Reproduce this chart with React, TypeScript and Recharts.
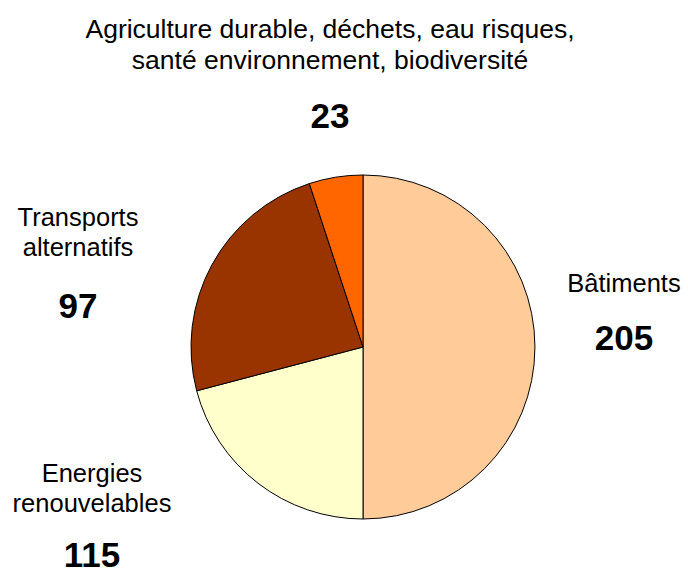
import { Cell, Pie, PieChart } from 'recharts';

// Categories in drawing order (clockwise from 12 o'clock)
const categories = [
  'Bâtiments',
  'Energies renouvelables',
  'Transports alternatifs',
  'Agriculture durable, déchets, eau risques, santé environnement, biodiversité',
];

// Numbers printed next to each slice
const projectCounts = [205, 115, 97, 23];

// Slice shares (%) as measured on the drawn pie
const sliceShares = [50, 20.9, 24.05, 5.05];

const sliceColors = ['#FFCC99', '#FFFFCC', '#993300', '#FF6600'];

// Label text lines per category
const labelLines = [
  ['Bâtiments'],
  ['Energies', 'renouvelables'],
  ['Transports', 'alternatifs'],
  ['Agriculture durable, déchets, eau risques,', 'santé environnement, biodiversité'],
];

// Label placement, relative to the pie centre: x of text centre, baseline of first line, baseline of number
const labelLayout = [
  { dx: 261, firstY: -55, numberY: 3, fontSize: 25.5, lineGap: 30 },
  { dx: -271, firstY: 135, numberY: 220, fontSize: 25.5, lineGap: 30 },
  { dx: -285, firstY: -121, numberY: -29, fontSize: 25.5, lineGap: 30 },
  { dx: -33, firstY: -309, numberY: -219, fontSize: 26.5, lineGap: 31 },
];

const chartData = categories.map((name, i) => ({
  name,
  share: sliceShares[i],
  count: projectCounts[i],
}));

const FONT = '"Liberation Sans", Arial, Helvetica, sans-serif';

function renderLabel(props: { cx: number; cy: number; index: number }) {
  const { cx, cy, index } = props;
  const layout = labelLayout[index];
  const x = cx + layout.dx;

  return (
    <g key={`label-${index}`}>
      {labelLines[index].map((line, i) => (
        <text
          key={line}
          x={x}
          y={cy + layout.firstY + i * layout.lineGap}
          textAnchor='middle'
          fontFamily={FONT}
          fontSize={layout.fontSize}
          fill='#000'
        >
          {line}
        </text>
      ))}
      <text
        x={x}
        y={cy + layout.numberY}
        textAnchor='middle'
        fontFamily={FONT}
        fontSize={35}
        fontWeight='bold'
        fill='#000'
      >
        {projectCounts[index]}
      </text>
    </g>
  );
}

export default function App() {
  return (
    <div style={{ position: 'absolute', left: 0, top: 0, width: 688, height: 574, background: '#fff' }}>
      <PieChart width={688} height={574} margin={{ top: 0, right: 0, bottom: 0, left: 0 }}>
        <Pie
          data={chartData}
          dataKey='share'
          nameKey='name'
          cx={363}
          cy={347}
          outerRadius={172}
          startAngle={90}
          endAngle={-270}
          stroke='#000'
          strokeWidth={1}
          label={renderLabel}
          labelLine={false}
          isAnimationActive={false}
        >
          {chartData.map((entry, i) => (
            <Cell key={entry.name} fill={sliceColors[i]} />
          ))}
        </Pie>
      </PieChart>
    </div>
  );
}
